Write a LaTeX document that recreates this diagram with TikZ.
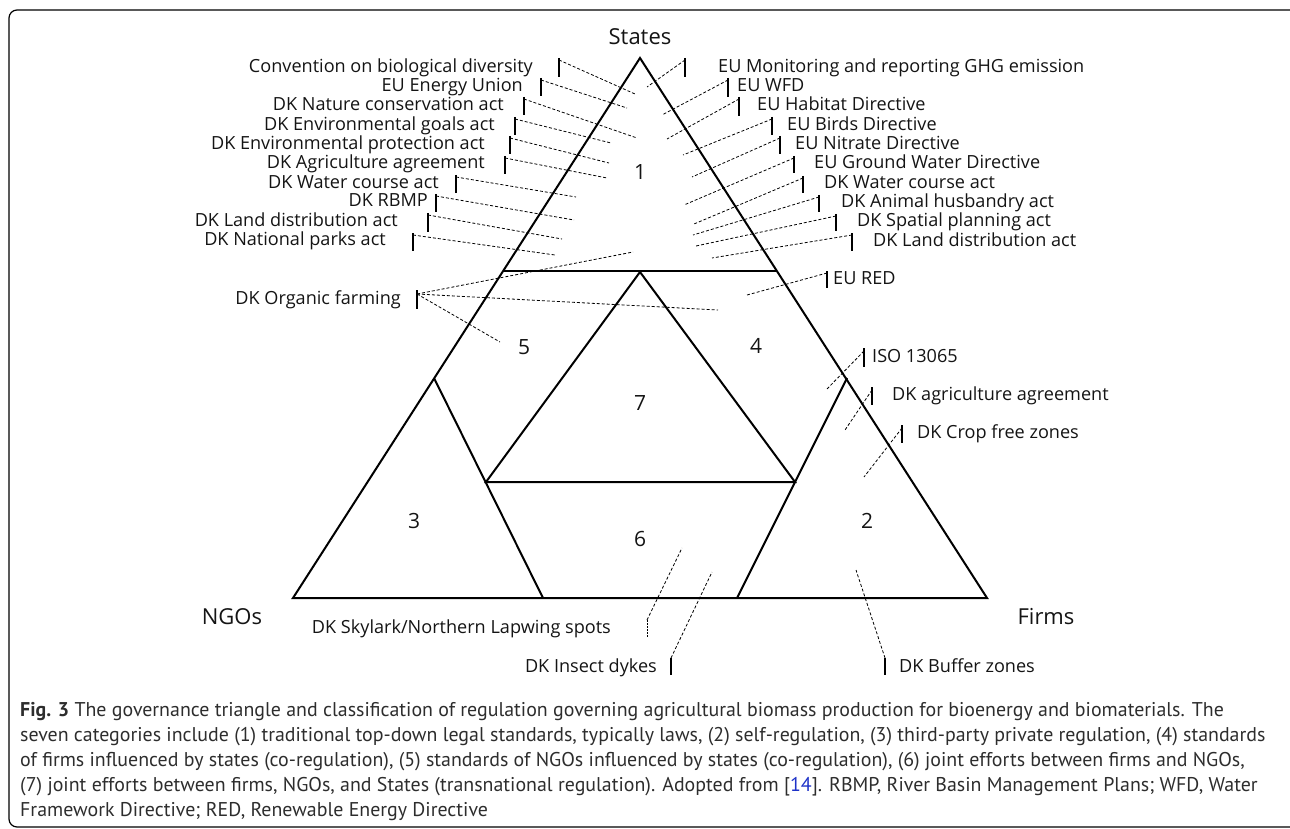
\documentclass[tikz,border=0pt]{standalone}
\usepackage{fontspec}
\setmainfont{Open Sans}
\newfontfamily\capfont{PT Sans}
\usepackage{xcolor}
\usetikzlibrary{calc}
\definecolor{ink}{RGB}{20,20,20}
\definecolor{capink}{RGB}{45,45,45}
\definecolor{refblue}{RGB}{30,50,200}

\begin{document}
\begin{tikzpicture}[x=1pt, y=-1pt,
    edge/.style={line width=2pt, line join=miter},
    lbl/.style={font=\fontsize{18.1}{20}\selectfont, text=ink, inner sep=0pt, yshift=-2.5pt},
    num/.style={font=\fontsize{21}{24}\selectfont, text=ink, inner sep=0pt},
    actor/.style={font=\fontsize{22}{26}\selectfont, text=ink, inner sep=0pt},
    tick/.style={line width=1.2pt},
    lead/.style={line width=0.8pt, dash pattern=on 3pt off 2pt}]
  \useasboundingbox (0,0) rectangle (1290,829);

  % frame
  \draw[line width=1.2pt, rounded corners=8pt] (1290,10) -- (9,10) -- (9,827) -- (1290,827);

  % governance triangle
  \coordinate (S) at (640,58);
  \coordinate (N) at (293,598);
  \coordinate (F) at (987,598);
  \draw[edge] (S) -- (N) -- (F) -- cycle;
  \coordinate (hl) at (503,271);
  \coordinate (hr) at (777,271);
  \draw[edge] (hl) -- (hr);
  % inner triangle 7
  \coordinate (t7) at (640,272);
  \coordinate (b7l) at (486,482);
  \coordinate (b7r) at (795,482);
  \draw[edge] (b7l) -- (t7) -- (b7r) -- cycle;
  % triangles 3 and 2
  \coordinate (t3) at (434,378);
  \coordinate (r3) at (543,598);
  \coordinate (t2) at (847,378);
  \coordinate (l2) at (737,598);
  \draw[edge] (t3) -- (r3);
  \draw[edge] (t2) -- (l2);

  % actors and numbers
  \node[actor] (states) at (640,37) {States};
  \node[actor] (ngos) at (232,617) {NGOs};
  \node[actor] (firms) at (1046,617) {Firms};
  \node[num] (n1) at (640,172) {1};
  \node[num] (n2) at (867,521) {2};
  \node[num] (n3) at (414,521) {3};
  \node[num] (n4) at (756,346) {4};
  \node[num] (n5) at (524,347) {5};
  \node[num] (n6) at (640,539) {6};
  \node[num] (n7) at (640,403) {7};

  % left labels
  \node[lbl, anchor=mid east] (cbd) at (533,67) {Convention on biological diversity};
  \coordinate (cbd-t) at (559,58); \coordinate (cbd-e) at (635,94);
  \draw[tick] (cbd-t) -- ++(0,19); \draw[lead] ($(cbd-t)+(0,2)$) -- (cbd-e);
  \node[lbl, anchor=mid east] (enu) at (523,86) {EU Energy Union};
  \coordinate (enu-t) at (541,78); \coordinate (enu-e) at (627,108);
  \draw[tick] (enu-t) -- ++(0,18); \draw[lead] ($(enu-t)+(0,2)$) -- (enu-e);
  \node[lbl, anchor=mid east] (nca) at (504,105) {DK Nature conservation act};
  \coordinate (nca-t) at (524,97); \coordinate (nca-e) at (637,138);
  \draw[tick] (nca-t) -- ++(0,18); \draw[lead] ($(nca-t)+(0,2)$) -- (nca-e);
  \node[lbl, anchor=mid east] (ega) at (495,125) {DK Environmental goals act};
  \coordinate (ega-t) at (515,117); \coordinate (ega-e) at (611,143);
  \draw[tick] (ega-t) -- ++(0,18); \draw[lead] ($(ega-t)+(0,2)$) -- (ega-e);
  \node[lbl, anchor=mid east] (epa) at (485,144) {DK Environmental protection act};
  \coordinate (epa-t) at (510,136); \coordinate (epa-e) at (609,163);
  \draw[tick] (epa-t) -- ++(0,18); \draw[lead] ($(epa-t)+(0,2)$) -- (epa-e);
  \node[lbl, anchor=mid east] (aga) at (485,163) {DK Agriculture agreement};
  \coordinate (aga-t) at (505,156); \coordinate (aga-e) at (607,178);
  \draw[tick] (aga-t) -- ++(0,18); \draw[lead] ($(aga-t)+(0,2)$) -- (aga-e);
  \node[lbl, anchor=mid east] (wca) at (439,183) {DK Water course act};
  \coordinate (wca-t) at (456,175); \coordinate (wca-e) at (576,197);
  \draw[tick] (wca-t) -- ++(0,18); \draw[lead] ($(wca-t)+(0,2)$) -- (wca-e);
  \node[lbl, anchor=mid east] (rbmp) at (428,201) {DK RBMP};
  \coordinate (rbmp-t) at (436,194); \coordinate (rbmp-e) at (574,220);
  \draw[tick] (rbmp-t) -- ++(0,18); \draw[lead] ($(rbmp-t)+(0,2)$) -- (rbmp-e);
  \node[lbl, anchor=mid east] (lda) at (398,221) {DK Land distribution act};
  \coordinate (lda-t) at (428,213); \coordinate (lda-e) at (562,239);
  \draw[tick] (lda-t) -- ++(0,19); \draw[lead] ($(lda-t)+(0,2)$) -- (lda-e);
  \node[lbl, anchor=mid east] (npa) at (386,240) {DK National parks act};
  \coordinate (npa-t) at (413,233); \coordinate (npa-e) at (555,255);
  \draw[tick] (npa-t) -- ++(0,18); \draw[lead] ($(npa-t)+(0,2)$) -- (npa-e);

  % organic farming, three leaders
  \node[lbl, anchor=mid east] (org) at (401,299) {DK Organic farming};
  \coordinate (org-t) at (417,290);
  \coordinate (org-e1) at (633,252); \coordinate (org-e4) at (718,310); \coordinate (org-e5) at (500,342);
  \draw[tick] (org-t) -- ++(0,19);
  \draw[lead] ($(org-t)+(0,4)$) -- (org-e1);
  \draw[lead] ($(org-t)+(0,4)$) -- (org-e4);
  \draw[lead] ($(org-t)+(0,4)$) -- (org-e5);

  % right labels
  \node[lbl, anchor=mid west] (ghg) at (718,67) {EU Monitoring and reporting GHG emission};
  \coordinate (ghg-t) at (685,58); \coordinate (ghg-e) at (647,87);
  \draw[tick] (ghg-t) -- ++(0,19); \draw[lead] ($(ghg-t)+(0,2)$) -- (ghg-e);
  \node[lbl, anchor=mid west] (wfd) at (737,86) {EU WFD};
  \coordinate (wfd-t) at (728,78); \coordinate (wfd-e) at (662,115);
  \draw[tick] (wfd-t) -- ++(0,19); \draw[lead] ($(wfd-t)+(0,2)$) -- (wfd-e);
  \node[lbl, anchor=mid west] (hab) at (757,105) {EU Habitat Directive};
  \coordinate (hab-t) at (739,97); \coordinate (hab-e) at (667,139);
  \draw[tick] (hab-t) -- ++(0,19); \draw[lead] ($(hab-t)+(0,2)$) -- (hab-e);
  \node[lbl, anchor=mid west] (bird) at (787,125) {EU Birds Directive};
  \coordinate (bird-t) at (772,117); \coordinate (bird-e) at (683,155);
  \draw[tick] (bird-t) -- ++(0,18); \draw[lead] ($(bird-t)+(0,2)$) -- (bird-e);
  \node[lbl, anchor=mid west] (nit) at (795,144) {EU Nitrate Directive};
  \coordinate (nit-t) at (780,136); \coordinate (nit-e) at (692,177);
  \draw[tick] (nit-t) -- ++(0,18); \draw[lead] ($(nit-t)+(0,2)$) -- (nit-e);
  \node[lbl, anchor=mid west] (gw) at (814,163) {EU Ground Water Directive};
  \coordinate (gw-t) at (794,156); \coordinate (gw-e) at (684,205);
  \draw[tick] (gw-t) -- ++(0,17); \draw[lead] ($(gw-t)+(0,2)$) -- (gw-e);
  \node[lbl, anchor=mid west] (wcb) at (824,183) {DK Water course act};
  \coordinate (wcb-t) at (803,176); \coordinate (wcb-e) at (694,224);
  \draw[tick] (wcb-t) -- ++(0,17); \draw[lead] ($(wcb-t)+(0,2)$) -- (wcb-e);
  \node[lbl, anchor=mid west] (anim) at (841,202) {DK Animal husbandry act};
  \coordinate (anim-t) at (819,195); \coordinate (anim-e) at (693,235);
  \draw[tick] (anim-t) -- ++(0,17); \draw[lead] ($(anim-t)+(0,2)$) -- (anim-e);
  \node[lbl, anchor=mid west] (spat) at (857,221) {DK Spatial planning act};
  \coordinate (spat-t) at (836,214); \coordinate (spat-e) at (696,246);
  \draw[tick] (spat-t) -- ++(0,17); \draw[lead] ($(spat-t)+(0,2)$) -- (spat-e);
  \node[lbl, anchor=mid west] (ldb) at (873,241) {DK Land distribution act};
  \coordinate (ldb-t) at (852,233); \coordinate (ldb-e) at (712,258);
  \draw[tick] (ldb-t) -- ++(0,18); \draw[lead] ($(ldb-t)+(0,2)$) -- (ldb-e);
  \node[lbl, anchor=mid west] (red) at (833,279) {EU RED};
  \coordinate (red-t) at (827,271); \coordinate (red-e) at (747,295);
  \draw[tick] (red-t) -- ++(0,17); \draw[lead] ($(red-t)+(0,2)$) -- (red-e);
  \node[lbl, anchor=mid west] (iso) at (872,357) {ISO 13065};
  \coordinate (iso-t) at (864,348); \coordinate (iso-e) at (826,390);
  \draw[tick] (iso-t) -- ++(0,19); \draw[lead] ($(iso-t)+(0,3)$) -- (iso-e);
  \node[lbl, anchor=mid west] (agr) at (892,395) {DK agriculture agreement};
  \coordinate (agr-t) at (872,387); \coordinate (agr-e) at (845,430);
  \draw[tick] (agr-t) -- ++(0,18); \draw[lead] ($(agr-t)+(0,3)$) -- (agr-e);
  \node[lbl, anchor=mid west] (crop) at (917,433) {DK Crop free zones};
  \coordinate (crop-t) at (902,425); \coordinate (crop-e) at (864,477);
  \draw[tick] (crop-t) -- ++(0,18); \draw[lead] ($(crop-t)+(0,3)$) -- (crop-e);

  % bottom labels
  \node[lbl, anchor=mid east] (sky) at (611,628) {DK Skylark/Northern Lapwing spots};
  \coordinate (sky-t) at (647,620); \coordinate (sky-e) at (682,548);
  \draw[tick, line width=0.8pt, dash pattern=on 2pt off 1pt] (sky-t) -- ++(0,18); \draw[lead] (sky-t) -- (sky-e);
  \node[lbl, anchor=mid east] (dyke) at (657,667) {DK Insect dykes};
  \coordinate (dyke-t) at (671,658); \coordinate (dyke-e) at (712,572);
  \draw[tick] (dyke-t) -- ++(0,17); \draw[lead] (dyke-t) -- (dyke-e);
  \node[lbl, anchor=mid west] (buf) at (899,667) {DK Buffer zones};
  \coordinate (buf-t) at (885,658); \coordinate (buf-e) at (856,570);
  \draw[tick] (buf-t) -- ++(0,17); \draw[lead] (buf-t) -- (buf-e);

  % caption
  \node[anchor=north west, inner sep=0pt, align=left, text=capink,
        font=\capfont\fontsize{19.9}{25}\selectfont] (cap) at (20,702)
    {\textbf{Fig. 3} The governance triangle and classification of regulation governing agricultural biomass production for bioenergy and biomaterials. The\\
     seven categories include (1) traditional top-down legal standards, typically laws, (2) self-regulation, (3) third-party private regulation, (4) standards\\
     of firms influenced by states (co-regulation), (5) standards of NGOs influenced by states (co-regulation), (6) joint efforts between firms and NGOs,\\
     (7) joint efforts between firms, NGOs, and States (transnational regulation). Adopted from [{\color{refblue}14}]. RBMP, River Basin Management Plans; WFD, Water\\
     Framework Directive; RED, Renewable Energy Directive};
\end{tikzpicture}
\end{document}
